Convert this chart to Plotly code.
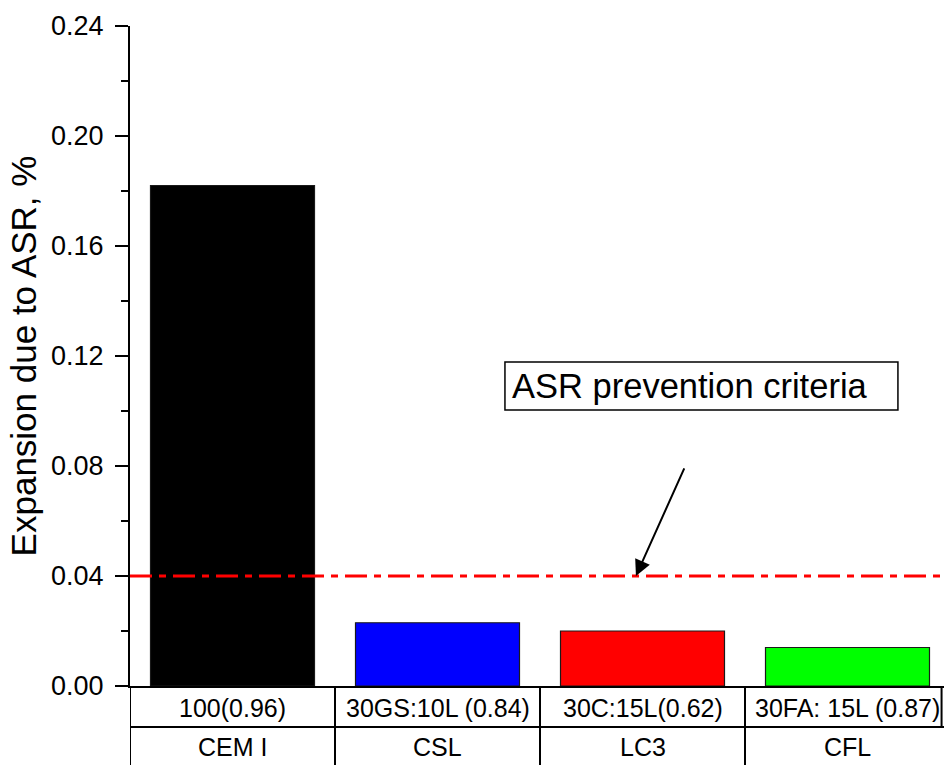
import plotly.graph_objects as go

# Binder systems and their ASR expansion
groups = ["CEM I", "CSL", "LC3", "CFL"]
mixes = ["100(0.96)", "30GS:10L (0.84)", "30C:15L(0.62)", "30FA: 15L (0.87)"]
expansion = [0.182, 0.023, 0.020, 0.014]
bar_colors = ["#000000", "#0000ff", "#ff0000", "#00ff00"]
criteria_limit = 0.04
y_ticks = [0.00, 0.04, 0.08, 0.12, 0.16, 0.20, 0.24]

FONT = "Liberation Sans, Arial, sans-serif"
pos = list(range(len(groups)))

fig = go.Figure()

fig.add_trace(go.Bar(
    x=pos,
    y=expansion,
    width=0.8,
    marker=dict(color=bar_colors, line=dict(color="#1a1a1a", width=1.2)),
    showlegend=False,
    hoverinfo="skip",
))

# Prevention criterion as a dash-dot reference line
fig.add_trace(go.Scatter(
    x=[-0.5, len(groups) - 0.5 + 0.2],
    y=[criteria_limit, criteria_limit],
    mode="lines",
    line=dict(color="#ff0000", width=3, dash="22px,7px,7px,7px"),
    showlegend=False,
    hoverinfo="skip",
    cliponaxis=True,
))

shapes = []
line_style = dict(color="#000000", width=2)
row_mid = -0.062
row_bot = -0.13
x_right = len(groups) - 0.5 + 0.2

# Table beneath the axis: horizontal rules
shapes.append(dict(type="line", xref="x", yref="paper", x0=-0.5, x1=x_right,
                   y0=row_mid, y1=row_mid, line=line_style))
# Vertical separators between categories
for i in range(len(groups)):
    shapes.append(dict(type="line", xref="x", yref="paper", x0=i - 0.5, x1=i - 0.5,
                       y0=0, y1=row_bot, line=line_style))
# Right border of the upper row
shapes.append(dict(type="line", xref="paper", yref="paper", x0=0.997, x1=0.997,
                   y0=0, y1=row_mid, line=line_style))

# Text box for the criterion label
shapes.append(dict(type="rect", xref="x", yref="y", x0=1.329, x1=3.246,
                   y0=0.1004, y1=0.1178, line=dict(color="#000000", width=1.5),
                   fillcolor="rgba(0,0,0,0)"))

annotations = []
for i in pos:
    annotations.append(dict(x=i, y=-0.033, xref="x", yref="paper", text=mixes[i],
                            showarrow=False, font=dict(family=FONT, size=25, color="#000"),
                            xanchor="center", yanchor="middle"))
    annotations.append(dict(x=i, y=-0.093, xref="x", yref="paper", text=groups[i],
                            showarrow=False, font=dict(family=FONT, size=25, color="#000"),
                            xanchor="center", yanchor="middle"))

annotations.append(dict(x=1.352, y=0.1091, xref="x", yref="y",
                        text="ASR prevention criteria", showarrow=False,
                        xanchor="left", yanchor="middle",
                        font=dict(family=FONT, size=34.5, color="#000")))

# Arrow pointing at the criterion line
annotations.append(dict(x=1.968, y=criteria_limit, xref="x", yref="y",
                        ax=2.207, ay=0.0797, axref="x", ayref="y",
                        text="", showarrow=True, arrowhead=2, arrowsize=1.6,
                        arrowwidth=2, arrowcolor="#000000"))

fig.update_layout(
    width=944,
    height=765,
    margin=dict(l=130, r=0, t=26, b=79),
    paper_bgcolor="white",
    plot_bgcolor="white",
    font=dict(family=FONT, color="#000"),
    shapes=shapes,
    annotations=annotations,
    bargap=0.2,
)

fig.update_xaxes(
    range=[-0.5, -0.5 + 814 / 205],
    showticklabels=False,
    ticks="",
    showgrid=False,
    zeroline=False,
    showline=True,
    linecolor="#000",
    linewidth=2,
)

fig.update_yaxes(
    range=[0, 0.24],
    tickvals=y_ticks,
    tickformat=".2f",
    ticks="outside",
    ticklen=13,
    tickwidth=2,
    tickcolor="#000",
    ticklabelstandoff=6,
    minor=dict(dtick=0.02, ticks="outside", ticklen=7, tickwidth=2, tickcolor="#000"),
    showgrid=False,
    zeroline=False,
    showline=True,
    linecolor="#000",
    linewidth=2,
    tickfont=dict(family=FONT, size=27, color="#000"),
    title=dict(text="Expansion due to ASR, %", standoff=4,
               font=dict(family=FONT, size=35, color="#000")),
)

fig.write_html("out.html")
